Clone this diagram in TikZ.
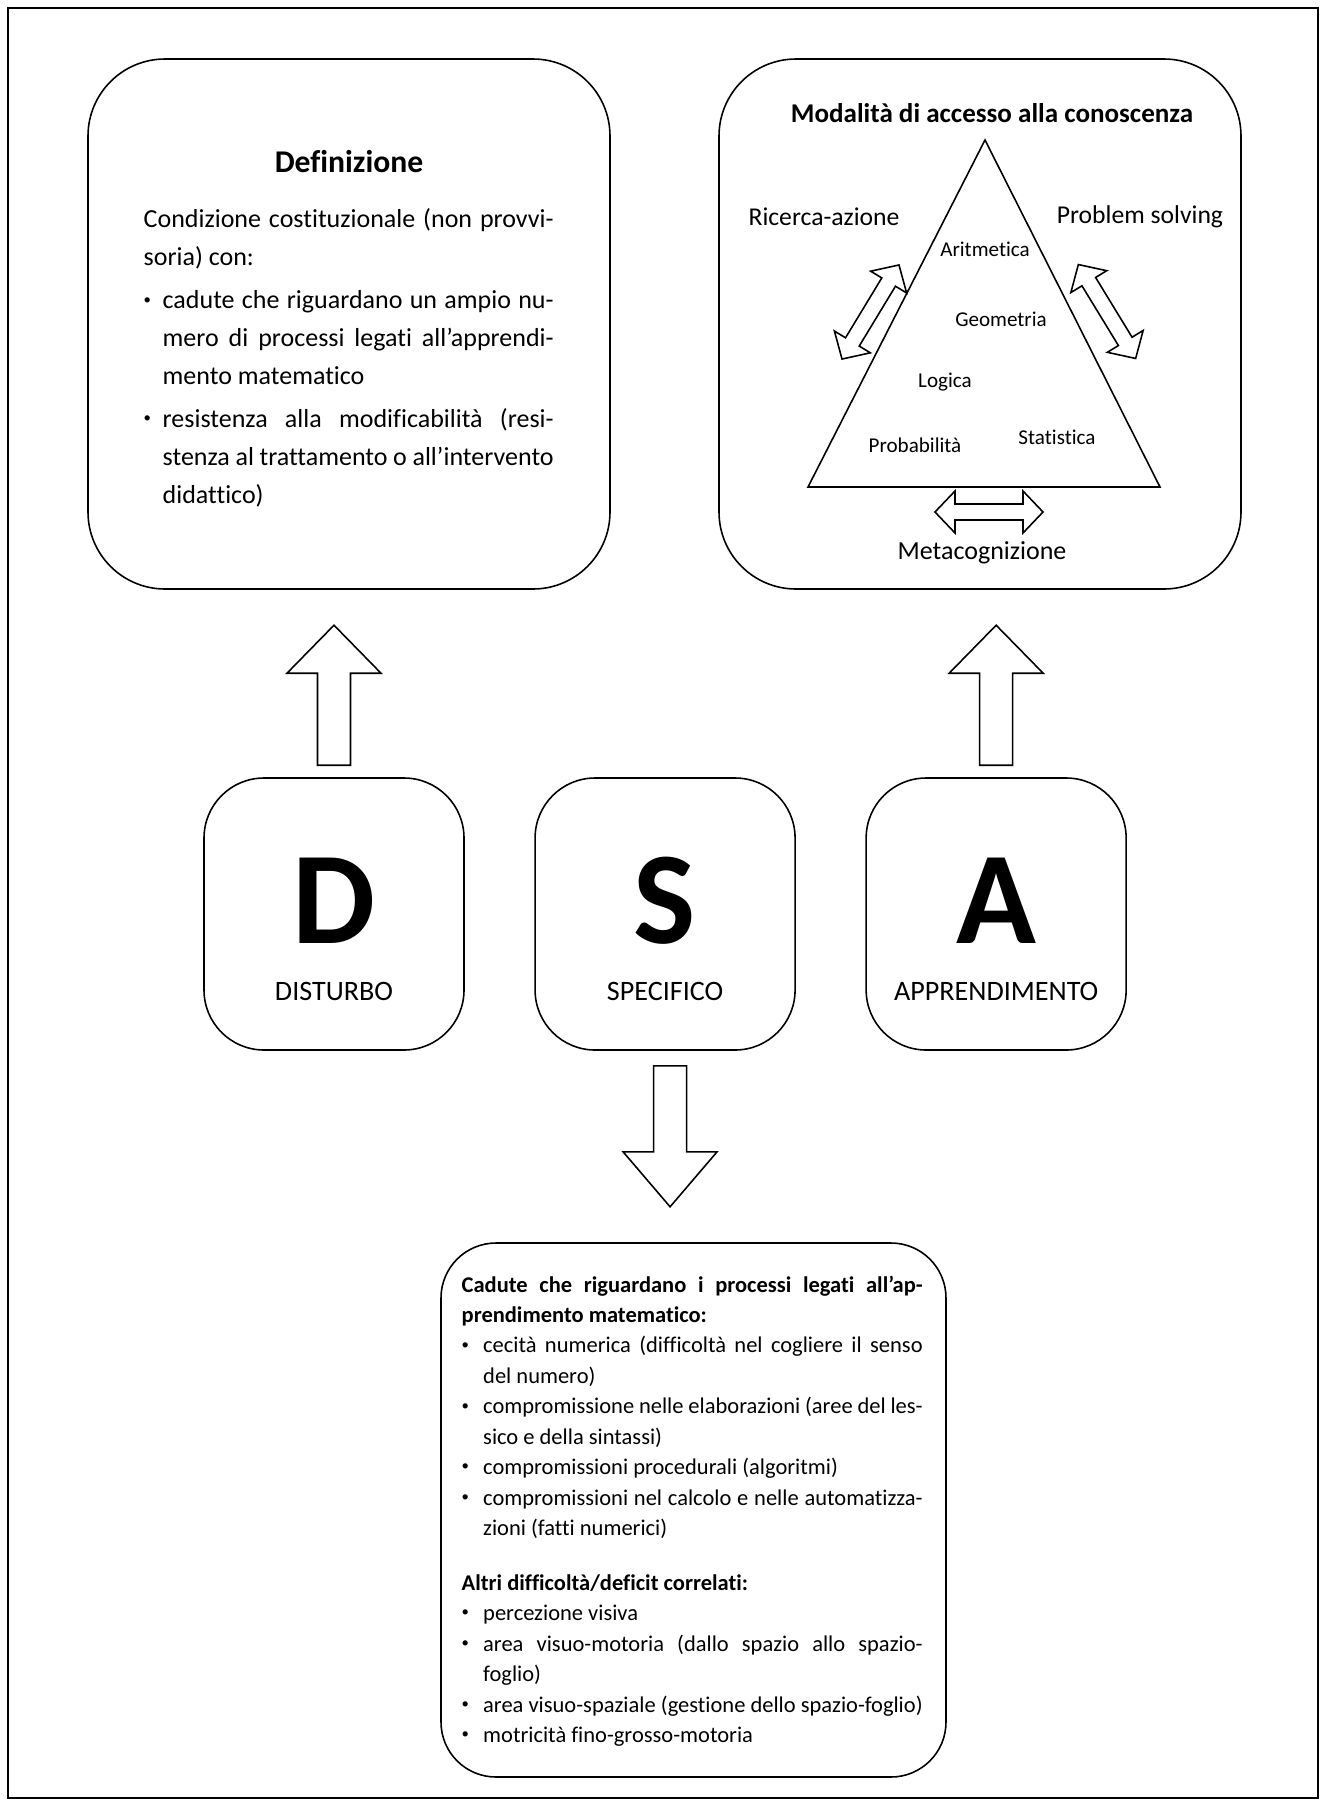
\documentclass[tikz,border=0pt]{standalone}
\usepackage{fontspec}
\setmainfont{Carlito}[Ligatures=NoCommon]
\usetikzlibrary{positioning}

\newlength{\bulletind}
\setlength{\bulletind}{1.9mm}
\newcommand{\bitem}{\par\noindent\hangindent=\bulletind\hangafter=1%
  \makebox[\bulletind][l]{\raisebox{0.35ex}{\fontsize{4.2}{5}\selectfont •}}}

% hollow block arrow: start, angle, length, head length
\newcommand{\hollowarrow}[4]{%
  \begin{scope}[shift={#1}, rotate=#2]
    \draw[hollow] (0,-16.5) -- ({#3-#4},-16.5) -- ({#3-#4},-47) -- (#3,0)
      -- ({#3-#4},47) -- ({#3-#4},16.5) -- (0,16.5) -- cycle;
  \end{scope}}
% hollow double arrow: centre, angle, half length
\newcommand{\hollowdouble}[3]{%
  \begin{scope}[shift={#1}, rotate=#2]
    \draw[hollow] (-#3,0) -- ({-#3+20},-21) -- ({-#3+20},-8) -- ({#3-20},-8)
      -- ({#3-20},-21) -- (#3,0) -- ({#3-20},21) -- ({#3-20},8)
      -- ({-#3+20},8) -- ({-#3+20},21) -- cycle;
  \end{scope}}

\tikzset{
  panel/.style={draw, line width=0.45pt, rounded corners=7.7mm, inner sep=0pt},
  dsabox/.style={panel, rounded corners=6mm, minimum width=26mm, minimum height=27.2mm},
  hollow/.style={draw, line width=0.45pt, fill=white, line join=miter},
  bigletter/.style={font=\fontsize{37.5}{38}\selectfont\bfseries, inner sep=0pt},
  dsaword/.style={font=\fontsize{8}{9}\selectfont, inner sep=0pt},
  deftext/.style={font=\fontsize{7.4}{10.8}\selectfont, text width=41mm,
    align=justify, inner sep=0pt, anchor=north west},
  falltext/.style={font=\fontsize{6.4}{8.66}\selectfont, text width=46.1mm,
    align=justify, inner sep=0pt, anchor=north west},
  sidelabel/.style={font=\fontsize{7.3}{9}\selectfont, inner sep=0pt},
  subject/.style={font=\fontsize{6}{7}\selectfont, inner sep=0pt},
}

\begin{document}
\begin{tikzpicture}[x=0.1mm, y=-0.1mm]
\useasboundingbox (0,0) rectangle (1325,1805);
\draw[line width=0.45pt] (8,8) rectangle (1318,1798);

% top panels
\node[panel, minimum width=52.2mm, minimum height=53mm] (def) at (349,324) {};
\node[panel, minimum width=52.2mm, minimum height=53mm] (mod) at (980,324) {};

\node[font=\fontsize{9}{10}\selectfont\bfseries, inner sep=0pt] (deftitle) at (349,162) {Definizione};
\node[deftext] (defbody) at (143,208) {\tolerance=10000\hyphenpenalty=10000\parskip=1.4pt%
Condizione costituzionale (non provvi-\linebreak soria) con:
\bitem cadute che riguardano un ampio nu-\linebreak mero di processi legati all’apprendi-\linebreak mento matematico
\bitem resistenza alla modificabilità (resi-\linebreak stenza al trattamento o all’intervento\linebreak didattico)\par};

% access modes
\node[font=\fontsize{7.7}{10}\selectfont\bfseries, inner sep=0pt] (modtitle) at (992,113) {Modalità di accesso alla conoscenza};
\coordinate (apex) at (985,140);
\coordinate (baseL) at (808,487);
\coordinate (baseR) at (1160,487);
\draw[line width=0.45pt] (apex) -- (baseL) -- (baseR) -- cycle;

\node[sidelabel] (ricerca) at (824,217) {Ricerca-azione};
\node[sidelabel] (problem) at (1140,217) {Problem solving};
\node[subject] (aritm) at (985,249) {Aritmetica};
\node[subject] (geom) at (1001,319) {Geometria};
\node[subject] (logica) at (945,382) {Logica};
\node[subject] (prob) at (915,445) {Probabilità};
\node[subject] (stat) at (1057,437) {Statistica};
\node[sidelabel, font=\fontsize{7.4}{9}\selectfont] (meta) at (982,553) {Metacognizione};

\hollowdouble{(870.5,312)}{58.8}{55}
\hollowdouble{(1107,311.5)}{-58.6}{55}
\hollowdouble{(989,512)}{0}{54}

% D S A
\node[dsabox] (D) at (334,914) {};
\node[dsabox, right=6.95mm of D] (S) {};
\node[dsabox, right=6.95mm of S] (A) {};

\node[bigletter] (Dletter) at ([yshift=1.3mm]D.center) {D};
\node[bigletter] (Sletter) at ([yshift=1.3mm]S.center) {S};
\node[bigletter] (Aletter) at ([yshift=1.3mm]A.center) {A};
\node[dsaword] (Dword) at ([yshift=-7.7mm]D.center) {DISTURBO};
\node[dsaword] (Sword) at ([yshift=-7.7mm]S.center) {SPECIFICO};
\node[dsaword] (Aword) at ([yshift=-7.7mm]A.center) {APPRENDIMENTO};

\hollowarrow{([yshift=1.2mm]D.north)}{90}{140}{48}
\hollowarrow{([yshift=1.2mm]A.north)}{90}{140}{48}
\hollowarrow{([yshift=-1.5mm, xshift=0.5mm]S.south)}{-90}{141}{55}

% falls
\node[panel, rounded corners=5.5mm, minimum width=50.5mm, minimum height=53.4mm] (fall) at (693.5,1510) {};
\node[falltext] (fallbody) at (461,1275) {\tolerance=10000\hyphenpenalty=10000\parskip=0pt\setlength{\bulletind}{2.15mm}%
\noindent\textbf{Cadute che riguardano i processi legati all’ap-\linebreak prendimento matematico:}
\bitem cecità numerica (difficoltà nel cogliere il senso\linebreak del numero)
\bitem compromissione nelle elaborazioni (aree del les-\linebreak sico e della sintassi)
\bitem compromissioni procedurali (algoritmi)
\bitem compromissioni nel calcolo e nelle automatizza-\linebreak zioni (fatti numerici)
\par\vspace{6.9pt}\noindent\textbf{Altri difficoltà/deficit correlati:}
\bitem percezione visiva
\bitem area visuo-motoria (dallo spazio allo spazio-\linebreak foglio)
\bitem area visuo-spaziale (gestione dello spazio-foglio)
\bitem motricità fino-grosso-motoria\par};
\end{tikzpicture}
\end{document}
